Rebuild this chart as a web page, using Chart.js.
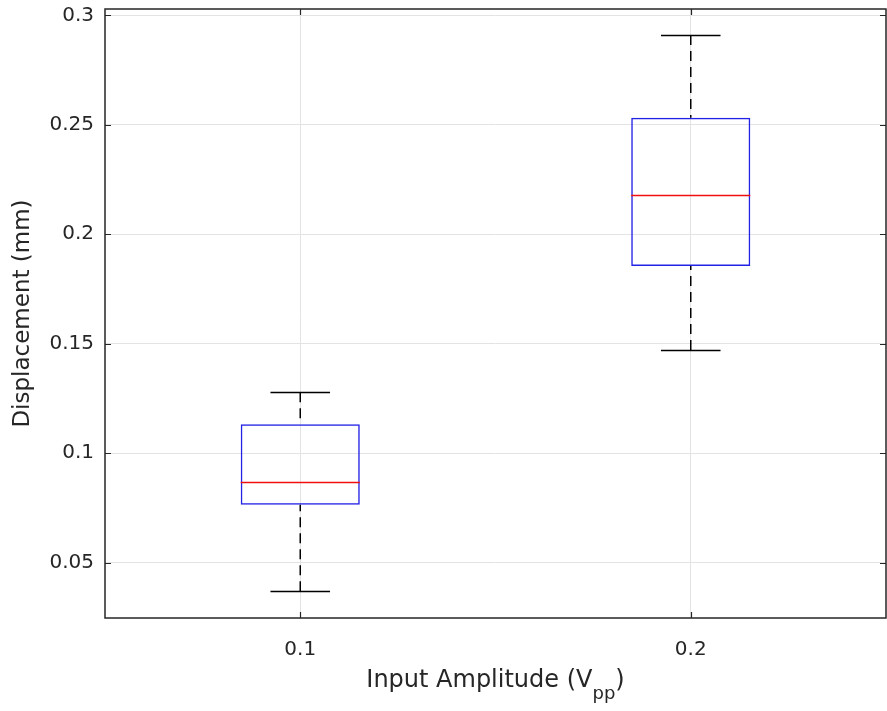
<!DOCTYPE html>
<html>
<head>
<meta charset="utf-8">
<script src="https://cdn.jsdelivr.net/npm/chart.js@4/dist/chart.umd.min.js"></script>
<style>
  html, body { margin: 0; padding: 0; background: #fff; }
  #wrap { width: 887px; height: 711px; }
</style>
</head>
<body>
<div id="wrap"><canvas id="boxChart" width="887" height="711"></canvas></div>
<script>
// input amplitude groups and displacement statistics (mm)
var amplitudes = ['0.1', '0.2'];
var whiskerLow = [0.0369, 0.1471];
var quartile1 = [0.0764, 0.1855];
var medians = [0.0867, 0.2179];
var quartile3 = [0.1132, 0.2532];
var whiskerHigh = [0.1278, 0.2910];
var yTicks = [0.05, 0.1, 0.15, 0.2, 0.25, 0.3];

var axisColor = '#262626';
var fontFamily = '"DejaVu Sans", "Liberation Sans", Arial, sans-serif';

// whiskers, caps, medians, frame and inward ticks
var boxExtras = {
    id: 'boxExtras',
    afterDatasetsDraw: function(chart) {
        var ctx = chart.ctx;
        var xs = chart.scales.x, ys = chart.scales.y;
        var bars = chart.getDatasetMeta(0).data;
        ctx.save();
        for (var i = 0; i < amplitudes.length; i++) {
            var x = xs.getPixelForValue(i);
            var half = bars[i].width / 2;
            var capHalf = half / 2;

            // dashed whiskers
            ctx.strokeStyle = '#000';
            ctx.lineWidth = 1.5;
            ctx.setLineDash([10, 6]);
            ctx.beginPath();
            ctx.moveTo(x, ys.getPixelForValue(whiskerHigh[i]));
            ctx.lineTo(x, ys.getPixelForValue(quartile3[i]));
            ctx.moveTo(x, ys.getPixelForValue(whiskerLow[i]));
            ctx.lineTo(x, ys.getPixelForValue(quartile1[i]));
            ctx.stroke();

            // caps
            ctx.setLineDash([]);
            ctx.beginPath();
            var yh = Math.round(ys.getPixelForValue(whiskerHigh[i])) + 0.5;
            var yl = Math.round(ys.getPixelForValue(whiskerLow[i])) + 0.5;
            ctx.moveTo(x - capHalf, yh); ctx.lineTo(x + capHalf, yh);
            ctx.moveTo(x - capHalf, yl); ctx.lineTo(x + capHalf, yl);
            ctx.stroke();

            // median
            ctx.strokeStyle = '#f01010';
            ctx.lineWidth = 1.5;
            ctx.beginPath();
            var ym = Math.round(ys.getPixelForValue(medians[i])) + 0.5;
            ctx.moveTo(x - half, ym); ctx.lineTo(x + half, ym);
            ctx.stroke();
        }
        ctx.restore();
    },
    afterDraw: function(chart) {
        var ctx = chart.ctx;
        var a = chart.chartArea;
        var xs = chart.scales.x, ys = chart.scales.y;
        ctx.save();
        ctx.strokeStyle = axisColor;
        ctx.lineWidth = 1.5;
        ctx.strokeRect(a.left, a.top, a.right - a.left, a.bottom - a.top);

        // inward tick marks on all four sides
        var tl = 6;
        ctx.lineWidth = 1.2;
        ctx.beginPath();
        yTicks.forEach(function(v) {
            var y = Math.round(ys.getPixelForValue(v)) + 0.5;
            ctx.moveTo(a.left, y); ctx.lineTo(a.left + tl, y);
            ctx.moveTo(a.right, y); ctx.lineTo(a.right - tl, y);
        });
        for (var i = 0; i < amplitudes.length; i++) {
            var x = Math.round(xs.getPixelForValue(i)) + 0.5;
            ctx.moveTo(x, a.bottom); ctx.lineTo(x, a.bottom - tl);
            ctx.moveTo(x, a.top); ctx.lineTo(x, a.top + tl);
        }
        ctx.stroke();

        // x axis title with subscript
        var main = '24px ' + fontFamily, sub = '18px ' + fontFamily;
        var t1 = 'Input Amplitude (V', t2 = 'pp', t3 = ')';
        ctx.fillStyle = axisColor;
        ctx.textBaseline = 'alphabetic';
        ctx.textAlign = 'left';
        ctx.font = main;
        var w1 = ctx.measureText(t1).width, w3 = ctx.measureText(t3).width;
        ctx.font = sub;
        var w2 = ctx.measureText(t2).width;
        var x0 = (a.left + a.right) / 2 - (w1 + w2 + w3) / 2;
        var base = 687;
        ctx.font = main;
        ctx.fillText(t1, x0, base);
        ctx.font = sub;
        ctx.fillText(t2, x0 + w1, base + 12);
        ctx.font = main;
        ctx.fillText(t3, x0 + w1 + w2, base);
        ctx.restore();
    }
};

var ctx = document.getElementById('boxChart');
var boxChart = new Chart(ctx, {
    type: 'bar',
    data: {
        labels: amplitudes,
        datasets: [{
            data: amplitudes.map(function(a, i) { return [quartile1[i], quartile3[i]]; }),
            backgroundColor: 'rgba(0,0,0,0)',
            borderColor: '#2222e6',
            borderWidth: 1.5,
            borderSkipped: false,
            barPercentage: 0.305,
            categoryPercentage: 1
        }]
    },
    options: {
        responsive: false,
        animation: false,
        layout: { padding: { top: 9, right: 1, left: 0, bottom: 0 } },
        plugins: {
            legend: { display: false },
            tooltip: { enabled: false }
        },
        scales: {
            x: {
                type: 'category',
                offset: true,
                grid: { offset: false, color: '#e3e3e3', drawTicks: false },
                border: { display: false },
                ticks: {
                    color: axisColor,
                    padding: 20,
                    font: { family: fontFamily, size: 20 }
                },
                afterFit: function(scale) {
                    scale.height = 93;
                    scale.paddingLeft = 0;
                    scale.paddingRight = 0;
                }
            },
            y: {
                min: 0.0247,
                max: 0.3029,
                grid: { color: '#e3e3e3', drawTicks: false },
                border: { display: false },
                afterBuildTicks: function(scale) {
                    scale.ticks = yTicks.map(function(v) { return { value: v }; });
                },
                ticks: {
                    color: axisColor,
                    padding: 11,
                    font: { family: fontFamily, size: 20 },
                    callback: function(v) { return String(+v.toFixed(2)); }
                },
                title: {
                    display: true,
                    text: 'Displacement (mm)',
                    color: axisColor,
                    font: { family: fontFamily, size: 23 },
                    padding: { top: 9, bottom: 0 }
                },
                afterFit: function(scale) {
                    scale.width = 105;
                    scale.paddingTop = 0;
                    scale.paddingBottom = 0;
                }
            }
        }
    },
    plugins: [boxExtras]
});
</script>
</body>
</html>
